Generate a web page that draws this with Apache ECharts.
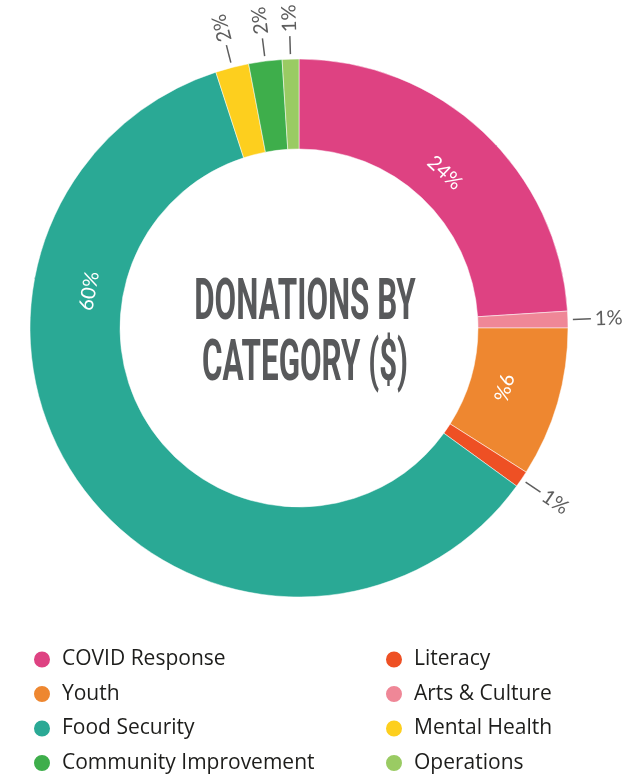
<!DOCTYPE html>
<html>
<head>
<meta charset="utf-8">
<script src="https://cdn.jsdelivr.net/npm/echarts@6/dist/echarts.min.js"></script>
<style>
  html, body { margin: 0; padding: 0; background: #fff; }
  #chart { width: 638px; height: 782px; }
</style>
</head>
<body>
<div id="chart"></div>
<script>
// categories in drawing order (clockwise from top)
const categories = ['COVID Response', 'Arts & Culture', 'Youth', 'Literacy', 'Food Security', 'Mental Health', 'Community Improvement', 'Operations']
const shares = [24, 1, 9, 1, 60, 2, 2, 1]
const colors = ['#DE4282', '#EF8797', '#EE8730', '#EE5024', '#2AA995', '#FDCF1E', '#3EAE4B', '#9ACB63']

// legend columns
const legendLeft = ['COVID Response', 'Youth', 'Food Security', 'Community Improvement']
const legendRight = ['Literacy', 'Arts & Culture', 'Mental Health', 'Operations']

const CX = 299
const CY = 328
const R0 = 179
const R1 = 269

// the big Food Security label sits higher than its mid angle
const labelAngleOverride = { 'Food Security': 280 }

const total = shares.reduce((a, b) => a + b, 0)
const angles = []
let acc = 0
shares.forEach(v => {
  const start = acc / total * 360
  acc += v
  angles.push({ start, end: acc / total * 360 })
})

const isInside = v => v >= 5

const chart = echarts.init(document.getElementById('chart'))

const pieData = categories.map((name, i) => ({
  name,
  value: shares[i],
  itemStyle: { color: colors[i] },
  label: isInside(shares[i])
    ? { position: 'inside', color: '#fff', fontSize: 20 }
    : { position: 'outside', color: '#5d5d5d', fontSize: 20 }
}))

const polar = (deg, r) => {
  const a = deg * Math.PI / 180
  return [CX + r * Math.sin(a), CY - r * Math.cos(a)]
}

const legendBase = {
  orient: 'vertical',
  icon: 'circle',
  itemWidth: 18,
  itemHeight: 18,
  itemGap: 13.5,
  top: 644,
  selectedMode: false,
  textStyle: { fontSize: 21, color: '#1d1d1b', fontFamily: 'Open Sans', lineHeight: 20, padding: [0, 0, 0, 6] }
}

chart.setOption({
  backgroundColor: '#fff',
  animation: false,
  legend: [
    Object.assign({}, legendBase, { left: 27, data: legendLeft }),
    Object.assign({}, legendBase, { left: 379, data: legendRight })
  ],
  graphic: [
    {
      type: 'text',
      x: 305,
      y: 305,
      scaleX: 0.55,
      style: {
        text: 'DONATIONS BY',
        font: 'bold 57px Roboto',
        fill: '#58595b',
        align: 'center',
        verticalAlign: 'middle'
      }
    },
    {
      type: 'text',
      x: 305,
      y: 366,
      scaleX: 0.55,
      style: {
        text: 'CATEGORY ($)',
        font: 'bold 57px Roboto',
        fill: '#58595b',
        align: 'center',
        verticalAlign: 'middle'
      }
    }
  ],
  series: [
    {
      type: 'pie',
      center: [CX, CY],
      radius: [R0, R1],
      startAngle: 90,
      clockwise: true,
      avoidLabelOverlap: false,
      silent: true,
      itemStyle: { borderColor: '#fff', borderWidth: 0.5 },
      label: {
        formatter: '{c}%',
        fontFamily: 'Lato'
      },
      labelLine: {
        show: true,
        length: 18,
        length2: 0,
        lineStyle: { color: '#5d5d5d', width: 1.5 }
      },
      labelLayout: (params) => {
        const i = params.dataIndex
        const a = angles[i]
        const mid = (a.start + a.end) / 2
        if (isInside(shares[i])) {
          const ang = labelAngleOverride[categories[i]] ?? mid
          const [x, y] = polar(ang, 213)
          return { x, y, rotate: -ang, align: 'center', verticalAlign: 'middle' }
        }
        const p0 = polar(mid, 274)
        const p1 = polar(mid, 292)
        const [x, y] = polar(mid, 296)
        return {
          x, y,
          rotate: 90 - mid,
          align: 'left',
          verticalAlign: 'middle',
          labelLinePoints: [p0, p1, p1]
        }
      },
      data: pieData
    }
  ]
})
</script>
</body>
</html>
